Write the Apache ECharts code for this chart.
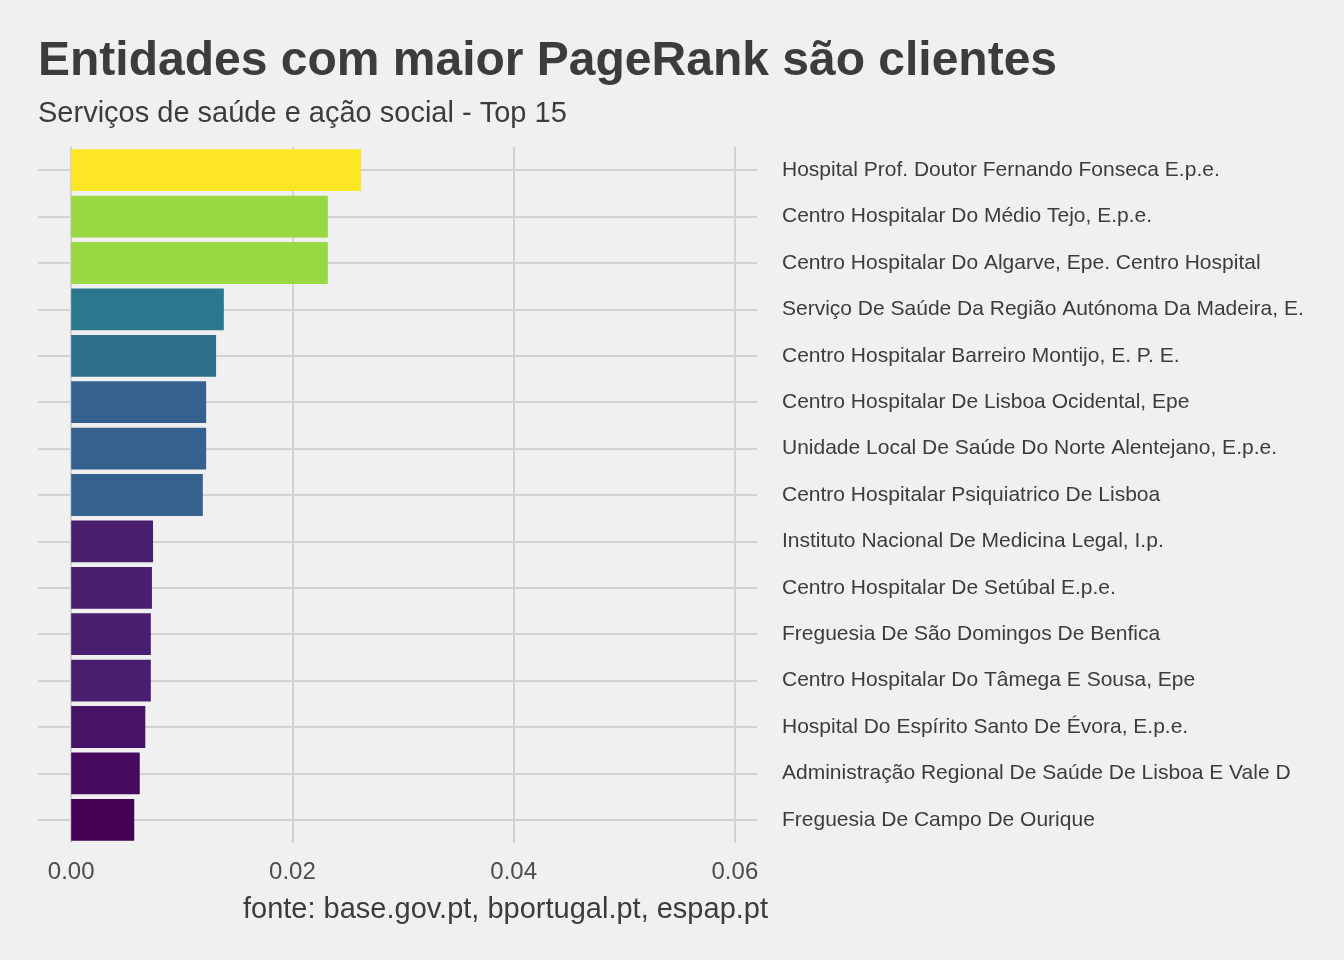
<!DOCTYPE html>
<html>
<head>
<meta charset="utf-8">
<title>Entidades com maior PageRank</title>
<script src="https://cdn.jsdelivr.net/npm/echarts@6/dist/echarts.min.js"></script>
<style>
  html, body { margin: 0; padding: 0; background: #f0f0f0; }
  #chart { width: 1344px; height: 960px; }
</style>
</head>
<body>
<div id="chart"></div>
<script>
  // entidades, de cima para baixo
  var entidades = [
    'Hospital Prof. Doutor Fernando Fonseca E.p.e.',
    'Centro Hospitalar Do Médio Tejo, E.p.e.',
    'Centro Hospitalar Do Algarve, Epe. Centro Hospital',
    'Serviço De Saúde Da Região Autónoma Da Madeira, E.',
    'Centro Hospitalar Barreiro Montijo, E. P. E.',
    'Centro Hospitalar De Lisboa Ocidental, Epe',
    'Unidade Local De Saúde Do Norte Alentejano, E.p.e.',
    'Centro Hospitalar Psiquiatrico De Lisboa',
    'Instituto Nacional De Medicina Legal, I.p.',
    'Centro Hospitalar De Setúbal E.p.e.',
    'Freguesia De São Domingos De Benfica',
    'Centro Hospitalar Do Tâmega E Sousa, Epe',
    'Hospital Do Espírito Santo De Évora, E.p.e.',
    'Administração Regional De Saúde De Lisboa E Vale D',
    'Freguesia De Campo De Ourique'
  ];
  var pagerank = [0.0262, 0.0232, 0.0232, 0.0138, 0.0131, 0.0122, 0.0122, 0.0119,
                  0.0074, 0.0073, 0.0072, 0.0072, 0.0067, 0.0062, 0.0057];
  var xTicks = [0, 0.02, 0.04, 0.06];

  // cores (viridis)
  var barColors = ['#fde725', '#98d843', '#98d843', '#2a788e', '#2e6f8c', '#34618d', '#34618d', '#34618d',
                   '#4a1f6f', '#4a1f6f', '#4a1f6f', '#4a1f6f', '#481467', '#460b5e', '#440154'];

  var chart = echarts.init(document.getElementById('chart'));
  var fontFamily = '"Liberation Sans", Arial, sans-serif';

  var seriesData = [];
  for (var i = 0; i < pagerank.length; i++) {
    seriesData.push({ value: pagerank[i], itemStyle: { color: barColors[i] } });
  }
  var gridLines = [];
  for (var j = 0; j < entidades.length; j++) {
    gridLines.push({ yAxis: entidades[j] });
  }

  var option = {
    backgroundColor: '#f0f0f0',
    animation: false,
    title: [
      {
        text: 'Entidades com maior PageRank são clientes',
        left: 33, top: 33,
        textStyle: { fontFamily: fontFamily, fontSize: 48, fontWeight: 'bold', color: '#3c3c3c' }
      },
      {
        text: 'Serviços de saúde e ação social - Top 15',
        left: 33, top: 94,
        textStyle: { fontFamily: fontFamily, fontSize: 29, fontWeight: 'normal', color: '#3c3c3c' }
      },
      {
        text: 'fonte: base.gov.pt, bportugal.pt, espap.pt',
        right: 571, top: 890,
        textStyle: { fontFamily: fontFamily, fontSize: 29, fontWeight: 'normal', color: '#3c3c3c' }
      }
    ],
    grid: {
      left: 38,
      right: 587,
      top: 147,
      bottom: 117,
      containLabel: false
    },
    xAxis: {
      type: 'value',
      min: -0.003,
      max: 0.062,
      axisLine: { show: false },
      axisTick: { show: false, customValues: xTicks },
      axisLabel: {
        customValues: xTicks,
        margin: 17,
        fontFamily: fontFamily,
        fontSize: 24,
        color: '#4d4d4d',
        formatter: function (v) { return v.toFixed(2); }
      },
      splitLine: { show: true, lineStyle: { color: '#d2d2d2', width: 2 } }
    },
    yAxis: {
      type: 'category',
      inverse: true,
      position: 'right',
      data: entidades,
      axisLine: { show: false },
      axisTick: { show: false },
      axisLabel: {
        interval: 0,
        margin: 25,
        fontFamily: fontFamily,
        fontSize: 21,
        color: '#3c3c3c'
      },
      splitLine: { show: false }
    },
    series: [
      {
        type: 'bar',
        data: seriesData,
        barCategoryGap: '10%',
        z: 3,
        markLine: {
          silent: true,
          z: 1,
          symbol: 'none',
          label: { show: false },
          lineStyle: { color: '#d2d2d2', width: 2, type: 'solid' },
          data: gridLines
        }
      }
    ]
  };
  chart.setOption(option);
</script>
</body>
</html>
